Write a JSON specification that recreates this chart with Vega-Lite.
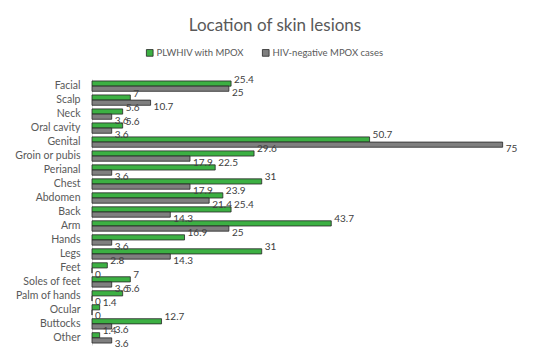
{
  "$schema": "https://vega.github.io/schema/vega-lite/v6.json",
  "width": 438,
  "height": 266,
  "autosize": "none",
  "padding": {"left": 92, "top": 79, "right": 20, "bottom": 19},
  "background": "white",
  "title": {"text": "Location of skin lesions", "fontSize": 17, "font": "Lato", "fontWeight": "normal", "color": "#595959", "anchor": "middle", "frame": "group", "dx": -36, "offset": 13},
  "config": {"view": {"stroke": null}, "font": "Lato"},
  "data": {"values": [
    {"site": "Facial", "group": "PLWHIV with MPOX", "value": 25.4},
    {"site": "Facial", "group": "HIV-negative MPOX cases", "value": 25},
    {"site": "Scalp", "group": "PLWHIV with MPOX", "value": 7},
    {"site": "Scalp", "group": "HIV-negative MPOX cases", "value": 10.7},
    {"site": "Neck", "group": "PLWHIV with MPOX", "value": 5.6},
    {"site": "Neck", "group": "HIV-negative MPOX cases", "value": 3.6},
    {"site": "Oral cavity", "group": "PLWHIV with MPOX", "value": 5.6},
    {"site": "Oral cavity", "group": "HIV-negative MPOX cases", "value": 3.6},
    {"site": "Genital", "group": "PLWHIV with MPOX", "value": 50.7},
    {"site": "Genital", "group": "HIV-negative MPOX cases", "value": 75},
    {"site": "Groin or pubis", "group": "PLWHIV with MPOX", "value": 29.6},
    {"site": "Groin or pubis", "group": "HIV-negative MPOX cases", "value": 17.9},
    {"site": "Perianal", "group": "PLWHIV with MPOX", "value": 22.5},
    {"site": "Perianal", "group": "HIV-negative MPOX cases", "value": 3.6},
    {"site": "Chest", "group": "PLWHIV with MPOX", "value": 31},
    {"site": "Chest", "group": "HIV-negative MPOX cases", "value": 17.9},
    {"site": "Abdomen", "group": "PLWHIV with MPOX", "value": 23.9},
    {"site": "Abdomen", "group": "HIV-negative MPOX cases", "value": 21.4},
    {"site": "Back", "group": "PLWHIV with MPOX", "value": 25.4},
    {"site": "Back", "group": "HIV-negative MPOX cases", "value": 14.3},
    {"site": "Arm", "group": "PLWHIV with MPOX", "value": 43.7},
    {"site": "Arm", "group": "HIV-negative MPOX cases", "value": 25},
    {"site": "Hands", "group": "PLWHIV with MPOX", "value": 16.9},
    {"site": "Hands", "group": "HIV-negative MPOX cases", "value": 3.6},
    {"site": "Legs", "group": "PLWHIV with MPOX", "value": 31},
    {"site": "Legs", "group": "HIV-negative MPOX cases", "value": 14.3},
    {"site": "Feet", "group": "PLWHIV with MPOX", "value": 2.8},
    {"site": "Feet", "group": "HIV-negative MPOX cases", "value": 0},
    {"site": "Soles of feet", "group": "PLWHIV with MPOX", "value": 7},
    {"site": "Soles of feet", "group": "HIV-negative MPOX cases", "value": 3.6},
    {"site": "Palm of hands", "group": "PLWHIV with MPOX", "value": 5.6},
    {"site": "Palm of hands", "group": "HIV-negative MPOX cases", "value": 0},
    {"site": "Ocular", "group": "PLWHIV with MPOX", "value": 1.4},
    {"site": "Ocular", "group": "HIV-negative MPOX cases", "value": 0},
    {"site": "Buttocks", "group": "PLWHIV with MPOX", "value": 12.7},
    {"site": "Buttocks", "group": "HIV-negative MPOX cases", "value": 3.6},
    {"site": "Other", "group": "PLWHIV with MPOX", "value": 1.4},
    {"site": "Other", "group": "HIV-negative MPOX cases", "value": 3.6}
  ]},
  "encoding": {
    "y": {"field": "site", "type": "nominal", "sort": null, "title": null,
      "scale": {"paddingInner": 0.26, "paddingOuter": 0.14},
      "axis": {"ticks": false, "labelFontSize": 10.5, "labelColor": "#595959", "labelPadding": 12, "domainColor": "#d9d9d9", "domainWidth": 1}},
    "yOffset": {"field": "group", "type": "nominal", "sort": ["PLWHIV with MPOX", "HIV-negative MPOX cases"]},
    "x": {"field": "value", "type": "quantitative", "scale": {"domain": [0, 80], "nice": false}, "axis": null}
  },
  "layer": [
    {
      "mark": {"type": "bar", "stroke": "#262626", "strokeWidth": 0.8},
      "encoding": {
        "color": {"field": "group", "type": "nominal", "sort": ["PLWHIV with MPOX", "HIV-negative MPOX cases"],
          "scale": {"domain": ["PLWHIV with MPOX", "HIV-negative MPOX cases"], "range": ["#3cb043", "#7f7f7f"]},
          "legend": {"title": null, "orient": "none", "direction": "horizontal", "legendX": 53, "legendY": -31, "symbolType": "square", "symbolSize": 45, "symbolStrokeColor": "#262626", "symbolStrokeWidth": 0.8, "labelFontSize": 9.5, "labelColor": "#595959", "columnPadding": 16, "labelOffset": 2}}
      }
    },
    {
      "transform": [{"filter": "datum.group === 'PLWHIV with MPOX'"}],
      "mark": {"type": "text", "align": "left", "dx": 3, "dy": -4, "fontSize": 10, "color": "#404040"},
      "encoding": {"text": {"field": "value", "type": "quantitative"}}
    },
    {
      "transform": [{"filter": "datum.group === 'HIV-negative MPOX cases'"}],
      "mark": {"type": "text", "align": "left", "dx": 3, "dy": 4, "fontSize": 10, "color": "#404040"},
      "encoding": {"text": {"field": "value", "type": "quantitative"}}
    }
  ]
}
